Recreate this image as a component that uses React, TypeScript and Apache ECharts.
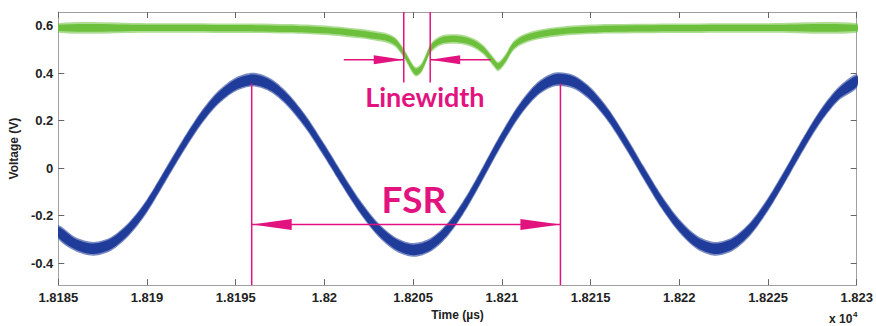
import React, { useEffect, useRef } from "react";
import * as echarts from "echarts";

// Transmission traces of the ring resonator (time in µs, voltage in V)
const blueTime = [
  18185, 18186, 18187, 18188, 18189, 18190, 18191, 18192, 18193, 18194,
  18195, 18196, 18197, 18198, 18199, 18200, 18201, 18202, 18203, 18204,
  18205, 18206, 18207, 18208, 18209, 18210, 18211, 18212, 18213, 18214,
  18215, 18216, 18217, 18218, 18219, 18220, 18221, 18222, 18223, 18224,
  18225, 18226, 18227, 18228, 18229, 18230,
];
const blueVoltage = [
  -0.27, -0.322, -0.34, -0.318, -0.255, -0.159, -0.035, 0.09, 0.205, 0.295,
  0.352, 0.372, 0.347, 0.282, 0.188, 0.073, -0.048, -0.163, -0.257, -0.32,
  -0.345, -0.323, -0.254, -0.145, -0.012, 0.124, 0.244, 0.332, 0.373, 0.364,
  0.311, 0.222, 0.106, -0.021, -0.143, -0.244, -0.313, -0.34, -0.32, -0.256,
  -0.153, -0.028, 0.103, 0.223, 0.314, 0.366,
];
const greenTime = [
  18185, 18190, 18195, 18198, 18200, 18201, 18202, 18203, 18203.5, 18204,
  18204.5, 18205, 18205.2, 18205.5, 18206, 18206.5, 18207, 18207.5, 18208,
  18208.5, 18209, 18209.5, 18209.8, 18210.2, 18210.6, 18211, 18211.5, 18212,
  18213, 18214, 18216, 18220, 18225, 18230,
];
const greenVoltage = [
  0.59, 0.59, 0.589, 0.586, 0.58, 0.574, 0.566, 0.555, 0.548, 0.53,
  0.48, 0.415, 0.405, 0.425, 0.505, 0.535, 0.543, 0.543, 0.537,
  0.522, 0.495, 0.45, 0.428, 0.46, 0.51, 0.535, 0.551, 0.561,
  0.573, 0.58, 0.586, 0.589, 0.59, 0.59,
];

// Axes
const timeMin = 18185;
const timeMax = 18230;
const timeStep = 5;
const voltMin = -0.493;
const voltMax = 0.657;
const voltTicks = [-0.4, -0.2, 0, 0.2, 0.4, 0.6];

// Annotation anchors
const fsrPeaks = [18195.9, 18213.3];
const fsrLineTop = 0.356;
const fsrArrowLevel = -0.238;
const fsrLabelPos = [18205.04, -0.128];
const lwEdges = [18204.47, 18205.96];
const lwLineBottom = 0.36;
const lwArrowLevel = 0.456;
const lwArrowTails = [18201.09, 18209.38];
const lwLabelPos = [18205.66, 0.3];

const BLUE = "#1f3c9a";
const GREEN = "#6cc03c";
const MAGENTA = "#e2137f";
const AXIS_FONT = "'Liberation Sans', Arial, sans-serif";
const NOTE_FONT = "Lato, 'Open Sans', sans-serif";

function bandSeries(xs: number[], ys: number[], half: number, color: string, opacity: number, z: number) {
  return {
    type: "custom",
    clip: true,
    z,
    silent: true,
    data: [[xs[0], ys[0]]],
    renderItem: (_params: any, api: any) => {
      const upper = xs.map((x, i) => api.coord([x, ys[i] + half]));
      const lower = xs.map((x, i) => api.coord([x, ys[i] - half])).reverse();
      return {
        type: "polygon",
        shape: { points: upper.concat(lower), smooth: 0.3 },
        style: { fill: color, opacity },
      };
    },
  };
}

function annotationSeries() {
  return {
    type: "custom",
    z: 10,
    silent: true,
    data: [[fsrPeaks[0], fsrArrowLevel]],
    renderItem: (_params: any, api: any) => {
      const c = (x: number, y: number) => api.coord([x, y]);
      const seg = (p: number[], q: number[]) => ({
        type: "line",
        shape: { x1: p[0], y1: p[1], x2: q[0], y2: q[1] },
        style: { stroke: MAGENTA, lineWidth: 1.5 },
      });
      const head = (tip: number[], dir: number, len: number, half: number) => ({
        type: "polygon",
        shape: {
          points: [
            tip,
            [tip[0] - dir * len, tip[1] - half],
            [tip[0] - dir * len, tip[1] + half],
          ],
        },
        style: { fill: MAGENTA },
      });
      const children: any[] = [];
      // FSR markers and double arrow
      fsrPeaks.forEach((t) => children.push(seg(c(t, fsrLineTop), c(t, voltMin))));
      const a = c(fsrPeaks[0], fsrArrowLevel);
      const b = c(fsrPeaks[1], fsrArrowLevel);
      children.push(seg(a, b), head(a, -1, 40, 5.5), head(b, 1, 40, 5.5));
      // Linewidth markers and inward arrows
      lwEdges.forEach((t) => children.push(seg(c(t, voltMax), c(t, lwLineBottom))));
      const l1 = c(lwEdges[0], lwArrowLevel);
      const l0 = c(lwArrowTails[0], lwArrowLevel);
      const r1 = c(lwEdges[1], lwArrowLevel);
      const r0 = c(lwArrowTails[1], lwArrowLevel);
      children.push(seg(l0, l1), head(l1, 1, 30, 4.5), seg(r0, r1), head(r1, -1, 30, 4.5));
      const fp = c(fsrLabelPos[0], fsrLabelPos[1]);
      const lp = c(lwLabelPos[0], lwLabelPos[1]);
      children.push({
        type: "text",
        x: fp[0],
        y: fp[1],
        style: {
          text: "FSR",
          fill: MAGENTA,
          fontSize: 37,
          fontWeight: "bold",
          fontFamily: NOTE_FONT,
          align: "center",
          verticalAlign: "middle",
        },
      });
      children.push({
        type: "text",
        x: lp[0],
        y: lp[1],
        style: {
          text: "Linewidth",
          fill: MAGENTA,
          fontSize: 27,
          fontWeight: "bold",
          fontFamily: NOTE_FONT,
          align: "center",
          verticalAlign: "middle",
        },
      });
      return { type: "group", children };
    },
  };
}

const fmtTime = (v: number) => Number((v / 1e4).toFixed(4)).toString();
const fmtVolt = (v: number) => (Math.round(v * 10) / 10).toString();

const tickStyle = { show: true, inside: true, length: 6, lineStyle: { color: "#666", width: 1 } };
const lineStyle = { show: true, onZero: false, lineStyle: { color: "#a0a0a0", width: 1 } };
const labelStyle = {
  color: "#222",
  fontSize: 13,
  fontWeight: "bold" as const,
  fontFamily: AXIS_FONT,
};

export default function App() {
  const ref = useRef<HTMLDivElement>(null);

  useEffect(() => {
    document.body.style.margin = "0";
    if (!ref.current) return;
    const chart = echarts.init(ref.current, undefined, { renderer: "svg" });
    chart.setOption({
      animation: false,
      backgroundColor: "#ffffff",
      grid: { left: 55, right: 18, top: 12, bottom: 39 },
      xAxis: [
        {
          type: "value",
          min: timeMin,
          max: timeMax,
          interval: timeStep,
          position: "bottom",
          axisLine: lineStyle,
          axisTick: tickStyle,
          splitLine: { show: false },
          axisLabel: { ...labelStyle, margin: 6, formatter: fmtTime, showMinLabel: true, showMaxLabel: true },
          name: "Time (µs)",
          nameLocation: "middle",
          nameGap: 20,
          nameTextStyle: { ...labelStyle, fontSize: 12 },
        },
        {
          type: "value",
          min: timeMin,
          max: timeMax,
          interval: timeStep,
          position: "top",
          axisLine: lineStyle,
          axisTick: tickStyle,
          splitLine: { show: false },
          axisLabel: { show: false },
        },
      ],
      yAxis: [
        {
          type: "value",
          min: voltMin,
          max: voltMax,
          position: "left",
          axisLine: lineStyle,
          axisTick: { ...tickStyle, customValues: voltTicks },
          splitLine: { show: false },
          axisLabel: { ...labelStyle, margin: 5, customValues: voltTicks, formatter: fmtVolt },
          name: "Voltage (V)",
          nameLocation: "middle",
          nameGap: 29,
          nameRotate: 90,
          nameTextStyle: { ...labelStyle, fontSize: 12 },
        },
        {
          type: "value",
          min: voltMin,
          max: voltMax,
          position: "right",
          axisLine: lineStyle,
          axisTick: { ...tickStyle, customValues: voltTicks },
          splitLine: { show: false },
          axisLabel: { show: false },
        },
      ],
      series: [
        bandSeries(greenTime, greenVoltage, 0.02, GREEN, 0.55, 2),
        bandSeries(greenTime, greenVoltage, 0.013, GREEN, 1, 3),
        bandSeries(blueTime, blueVoltage, 0.029, BLUE, 0.6, 2),
        bandSeries(blueTime, blueVoltage, 0.022, BLUE, 1, 3),
        annotationSeries(),
      ],
      graphic: [
        {
          type: "text",
          left: 829,
          top: 313,
          style: { text: "x 10", fill: "#222", fontSize: 12, fontWeight: "bold", fontFamily: AXIS_FONT },
        },
        {
          type: "text",
          left: 853,
          top: 310,
          style: { text: "4", fill: "#222", fontSize: 8, fontWeight: "bold", fontFamily: AXIS_FONT },
        },
      ],
    });
    return () => chart.dispose();
  }, []);

  return <div ref={ref} style={{ width: 876, height: 326 }} />;
}
